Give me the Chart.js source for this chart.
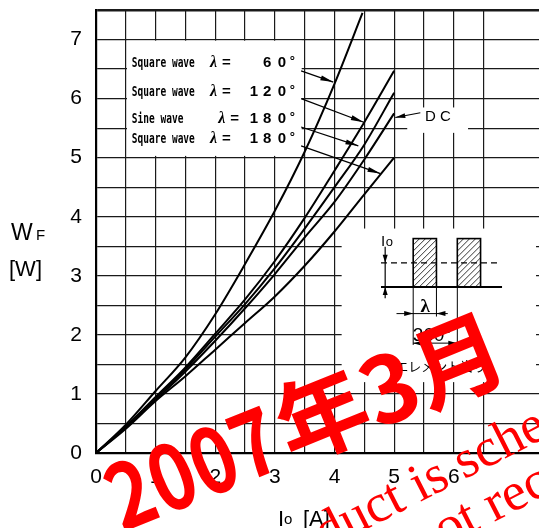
<!DOCTYPE html>
<html>
<head>
<meta charset="utf-8">
<script src="https://cdn.jsdelivr.net/npm/chart.js"></script>
<style>
  html, body { margin: 0; padding: 0; background: #fff; }
  #wrap { width: 539px; height: 528px; position: relative; overflow: hidden; }
</style>
</head>
<body>
<div id="wrap"><canvas id="chart" width="539" height="528"></canvas></div>
<script>
// average forward current Io [A]
var ioSq60 = [0, 0.5, 1, 1.5, 2, 2.5, 3, 3.5, 4, 4.47];
var io = [0, 0.5, 1, 1.5, 2, 2.5, 3, 3.5, 4, 4.5, 5];

// forward power dissipation WF [W]
var wSq60 = [0, 0.48, 1.05, 1.62, 2.35, 3.2, 4.1, 5.1, 6.25, 7.45];
var wSq120 = [0, 0.45, 0.95, 1.45, 2.02, 2.6, 3.25, 3.98, 4.78, 5.6, 6.47];
var wSine180 = [0, 0.44, 0.93, 1.42, 1.97, 2.52, 3.13, 3.8, 4.5, 5.22, 6.1];
var wDC = [0, 0.43, 0.9, 1.38, 1.9, 2.45, 3.03, 3.65, 4.25, 4.97, 5.75];
var wSq180 = [0, 0.41, 0.88, 1.3, 1.75, 2.2, 2.65, 3.17, 3.75, 4.38, 5.0];

var xLabels = ['0', '1', '2', '3', '4', '5', '6', '7'];
var yLabels = ['0', '1', '2', '3', '4', '5', '6', '7'];

function pts(xs, ys) {
    return xs.map(function (x, i) { return { x: x, y: ys[i] }; });
}

function curve(label, xs, ys) {
    return {
        label: label,
        data: pts(xs, ys),
        borderColor: '#000',
        borderWidth: 2,
        pointRadius: 0,
        fill: false,
        cubicInterpolationMode: 'monotone'
    };
}

function arrowHead(ctx, x1, y1, x2, y2, len, half) {
    var a = Math.atan2(y2 - y1, x2 - x1);
    ctx.beginPath();
    ctx.moveTo(x2, y2);
    ctx.lineTo(x2 - len * Math.cos(a) + half * Math.sin(a), y2 - len * Math.sin(a) - half * Math.cos(a));
    ctx.lineTo(x2 - len * Math.cos(a) - half * Math.sin(a), y2 - len * Math.sin(a) + half * Math.cos(a));
    ctx.closePath();
    ctx.fill();
}

function arrow(ctx, x1, y1, x2, y2, len, half) {
    ctx.beginPath();
    ctx.moveTo(x1, y1);
    ctx.lineTo(x2, y2);
    ctx.stroke();
    arrowHead(ctx, x1, y1, x2, y2, len, half);
}

function condText(ctx, s, x, y, sx) {
    ctx.save();
    ctx.translate(x, y);
    ctx.scale(sx, 1);
    ctx.fillText(s, 0, 0);
    ctx.restore();
}

var decor = {
    id: 'decor',
    beforeDatasetsDraw: function (chart) {
        var ctx = chart.ctx;
        var X = function (v) { return chart.scales.x.getPixelForValue(v); };
        var Y = function (v) { return chart.scales.y.getPixelForValue(v); };
        ctx.save();
        ctx.fillStyle = '#fff';
        // label box, inset and "DC" text sit on cleared paper
        ctx.fillRect(X(0.52), Y(6.98), X(3.45) - X(0.52), Y(5.03) - Y(6.98));
        ctx.fillRect(X(4.12), Y(3.8), X(7.38) - X(4.12), Y(1.2) - Y(3.8));
        ctx.fillRect(X(5.22), Y(5.85), X(6.24) - X(5.22), Y(5.42) - Y(5.85));
        ctx.restore();
    },
    afterDatasetsDraw: function (chart) {
        var ctx = chart.ctx;
        var X = function (v) { return chart.scales.x.getPixelForValue(v); };
        var Y = function (v) { return chart.scales.y.getPixelForValue(v); };
        ctx.save();
        ctx.fillStyle = '#000';
        ctx.strokeStyle = '#000';
        ctx.textBaseline = 'alphabetic';

        // curve labels
        var rows = [
            ['Square wave', 6.53, 1.91, ' 60'],
            ['Square wave', 6.05, 1.91, '120'],
            ['Sine wave', 5.59, 2.05, '180'],
            ['Square wave', 5.25, 1.91, '180']
        ];
        var digitX = [2.58, 2.80, 3.05];
        rows.forEach(function (r) {
            var by = Y(r[1]);
            ctx.textAlign = 'left';
            ctx.font = 'bold 14px "DejaVu Sans Mono"';
            condText(ctx, r[0], X(0.60), by, 0.68);
            ctx.font = 'bold italic 16px "Liberation Serif"';
            ctx.fillText('\u03bb', X(r[2]), by);
            ctx.font = 'bold 15px "Liberation Sans"';
            ctx.fillText('=', X(r[2]) + 12, by);
            for (var i = 0; i < 3; i++) {
                if (r[3][i] !== ' ') ctx.fillText(r[3][i], X(digitX[i]), by);
            }
            ctx.font = 'bold 13px "Liberation Sans"';
            ctx.fillText('\u00b0', X(3.25), by - 2);
        });

        // arrows from the labels to the curves
        ctx.lineWidth = 1.2;
        arrow(ctx, X(3.44), Y(6.47), X(3.98), Y(6.28), 13, 2.5);
        arrow(ctx, X(3.44), Y(6.0), X(4.49), Y(5.6), 13, 2.5);
        arrow(ctx, X(3.44), Y(5.52), X(4.4), Y(5.2), 13, 2.5);
        arrow(ctx, X(3.44), Y(5.2), X(4.77), Y(4.73), 13, 2.5);
        arrow(ctx, X(5.44), Y(5.76), X(5.02), Y(5.68), 10, 2.5);
        ctx.font = '15px "Liberation Sans"';
        ctx.fillText('D', X(5.52), Y(5.62));
        ctx.fillText('C', X(5.77), Y(5.62));

        // inset: current waveform
        ctx.lineWidth = 2;
        ctx.beginPath();
        ctx.moveTo(X(4.78), Y(2.81));
        ctx.lineTo(X(6.81), Y(2.81));
        ctx.stroke();
        ctx.lineWidth = 1.3;
        ctx.setLineDash([6, 4]);
        ctx.beginPath();
        ctx.moveTo(X(4.78), Y(3.22));
        ctx.lineTo(X(6.75), Y(3.22));
        ctx.stroke();
        ctx.setLineDash([]);
        [[5.32, 5.71], [6.06, 6.45]].forEach(function (b) {
            var x0 = X(b[0]), x1 = X(b[1]), y0 = Y(3.63), y1 = Y(2.81);
            ctx.lineWidth = 1.6;
            ctx.strokeRect(x0, y0, x1 - x0, y1 - y0);
            ctx.save();
            ctx.beginPath();
            ctx.rect(x0, y0, x1 - x0, y1 - y0);
            ctx.clip();
            ctx.lineWidth = 0.8;
            for (var k = -60; k < 60; k += 6) {
                ctx.beginPath();
                ctx.moveTo(x0 + k, y1);
                ctx.lineTo(x0 + k + (y1 - y0), y0);
                ctx.stroke();
            }
            ctx.restore();
        });
        // Io dimension
        ctx.lineWidth = 1.2;
        ctx.beginPath();
        ctx.moveTo(X(4.85), Y(3.49));
        ctx.lineTo(X(4.85), Y(2.62));
        ctx.stroke();
        arrowHead(ctx, X(4.85), Y(3.45), X(4.85), Y(3.22), 8, 2.5);
        arrowHead(ctx, X(4.85), Y(2.62), X(4.85), Y(2.81), 8, 2.5);
        ctx.font = '15px "Liberation Sans"';
        ctx.fillText('I', X(4.78), Y(3.5));
        ctx.font = '13px "Liberation Sans"';
        ctx.fillText('o', X(4.86), Y(3.5));
        // lambda and 360 deg dimensions
        ctx.lineWidth = 1;
        [[5.32, 1.83], [5.71, 2.31], [6.06, 1.83]].forEach(function (e) {
            ctx.beginPath();
            ctx.moveTo(X(e[0]), Y(2.81));
            ctx.lineTo(X(e[0]), Y(e[1]));
            ctx.stroke();
        });
        ctx.beginPath();
        ctx.moveTo(X(5.04), Y(2.36));
        ctx.lineTo(X(5.90), Y(2.36));
        ctx.stroke();
        arrowHead(ctx, X(5.1), Y(2.36), X(5.32), Y(2.36), 9, 2.5);
        arrowHead(ctx, X(5.9), Y(2.36), X(5.71), Y(2.36), 9, 2.5);
        ctx.beginPath();
        ctx.moveTo(X(5.32), Y(1.86));
        ctx.lineTo(X(6.06), Y(1.86));
        ctx.stroke();
        arrowHead(ctx, X(5.6), Y(1.86), X(5.32), Y(1.86), 9, 2.5);
        arrowHead(ctx, X(5.8), Y(1.86), X(6.06), Y(1.86), 9, 2.5);
        ctx.textAlign = 'center';
        ctx.font = 'bold 19px "Liberation Serif"';
        ctx.fillText('\u03bb', X(5.52), Y(2.38));
        ctx.font = '19px "Liberation Sans"';
        ctx.fillText('360\u00b0', X(5.64), Y(1.9));
        ctx.textAlign = 'left';
        ctx.font = '13px "Noto Sans CJK JP"';
        ctx.fillText('1エレメント当り', X(4.9), Y(1.39));

        // axis titles
        ctx.font = '23px "Liberation Sans"';
        ctx.fillText('W', 11, 240);
        ctx.font = '15px "Liberation Sans"';
        ctx.fillText('F', 36, 240);
        ctx.font = '22px "Liberation Sans"';
        ctx.fillText('[W]', 9, 276);
        ctx.fillText('I', 278, 526);
        ctx.font = '15px "Liberation Sans"';
        ctx.fillText('o', 284, 524);
        ctx.font = '22px "Liberation Sans"';
        ctx.fillText('[A]', 303, 526);

        // red stamp over the sheet
        ctx.fillStyle = '#ff0000';
        ctx.save();
        ctx.translate(292, 464);
        ctx.rotate(-22 * Math.PI / 180);
        ctx.font = 'bold 92px "Noto Sans CJK JP"';
        ctx.textBaseline = 'alphabetic';
        ctx.textAlign = 'left';
        ctx.fillText('年3月', 0, 0);
        ctx.textAlign = 'right';
        ctx.save();
        ctx.scale(0.82, 1);
        ctx.fillText('2007', -6, 0);
        ctx.restore();
        ctx.restore();
        ctx.font = '54px "Liberation Serif"';
        ctx.textBaseline = 'alphabetic';
        ctx.save();
        ctx.translate(420, 502);
        ctx.rotate(-27 * Math.PI / 180);
        ctx.textAlign = 'right';
        ctx.fillText('This product ', 0, 0);
        ctx.textAlign = 'left';
        ctx.fillText('is scheduled to be discontinued.', 0, 0);
        ctx.restore();
        ctx.save();
        ctx.translate(494, 522);
        ctx.rotate(-27 * Math.PI / 180);
        ctx.textAlign = 'right';
        ctx.fillText('It is not ', 0, 0);
        ctx.textAlign = 'left';
        ctx.fillText('recommended for new design.', 0, 0);
        ctx.restore();

        ctx.restore();
    }
};

var ctx = document.getElementById('chart').getContext('2d');
var chart = new Chart(ctx, {
    type: 'line',
    data: {
        datasets: [
            curve('Square wave 60°', ioSq60, wSq60),
            curve('Square wave 120°', io, wSq120),
            curve('Sine wave 180°', io, wSine180),
            curve('DC', io, wDC),
            curve('Square wave 180°', io, wSq180)
        ]
    },
    options: {
        responsive: false,
        animation: false,
        layout: { padding: { top: 10, right: 0, left: 0, bottom: 0 } },
        plugins: {
            legend: { display: false },
            tooltip: { enabled: false }
        },
        scales: {
            x: {
                type: 'linear',
                min: 0,
                max: 7.43,
                afterBuildTicks: function (scale) {
                    scale.ticks = scale.ticks.filter(function (t) {
                        return Math.abs(t.value * 2 - Math.round(t.value * 2)) < 1e-6;
                    });
                },
                afterFit: function (scale) {
                    scale.height = 75;
                    scale.paddingLeft = 0;
                    scale.paddingRight = 0;
                },
                ticks: {
                    stepSize: 0.5,
                    autoSkip: false,
                    maxRotation: 0,
                    padding: 12,
                    color: '#000',
                    font: { family: 'Liberation Sans', size: 21 },
                    callback: function (v) { return Number.isInteger(v) ? xLabels[v] : ''; }
                },
                grid: { color: '#1a1a1a', lineWidth: 1.2, drawTicks: false },
                border: { color: '#000', width: 2.2 }
            },
            y: {
                type: 'linear',
                min: 0,
                max: 7.5,
                afterFit: function (scale) {
                    scale.width = 96;
                    scale.paddingTop = 0;
                    scale.paddingBottom = 0;
                },
                ticks: {
                    stepSize: 0.5,
                    autoSkip: false,
                    padding: 14,
                    color: '#000',
                    font: { family: 'Liberation Sans', size: 21 },
                    callback: function (v) { return Number.isInteger(v) ? yLabels[v] : ''; }
                },
                grid: {
                    color: '#1a1a1a',
                    drawTicks: false,
                    lineWidth: function (c) { return c.tick && c.tick.value === 7.5 ? 2.5 : 1.2; }
                },
                border: { color: '#000', width: 2.2 }
            }
        }
    },
    plugins: [decor]
});
</script>
</body>
</html>
